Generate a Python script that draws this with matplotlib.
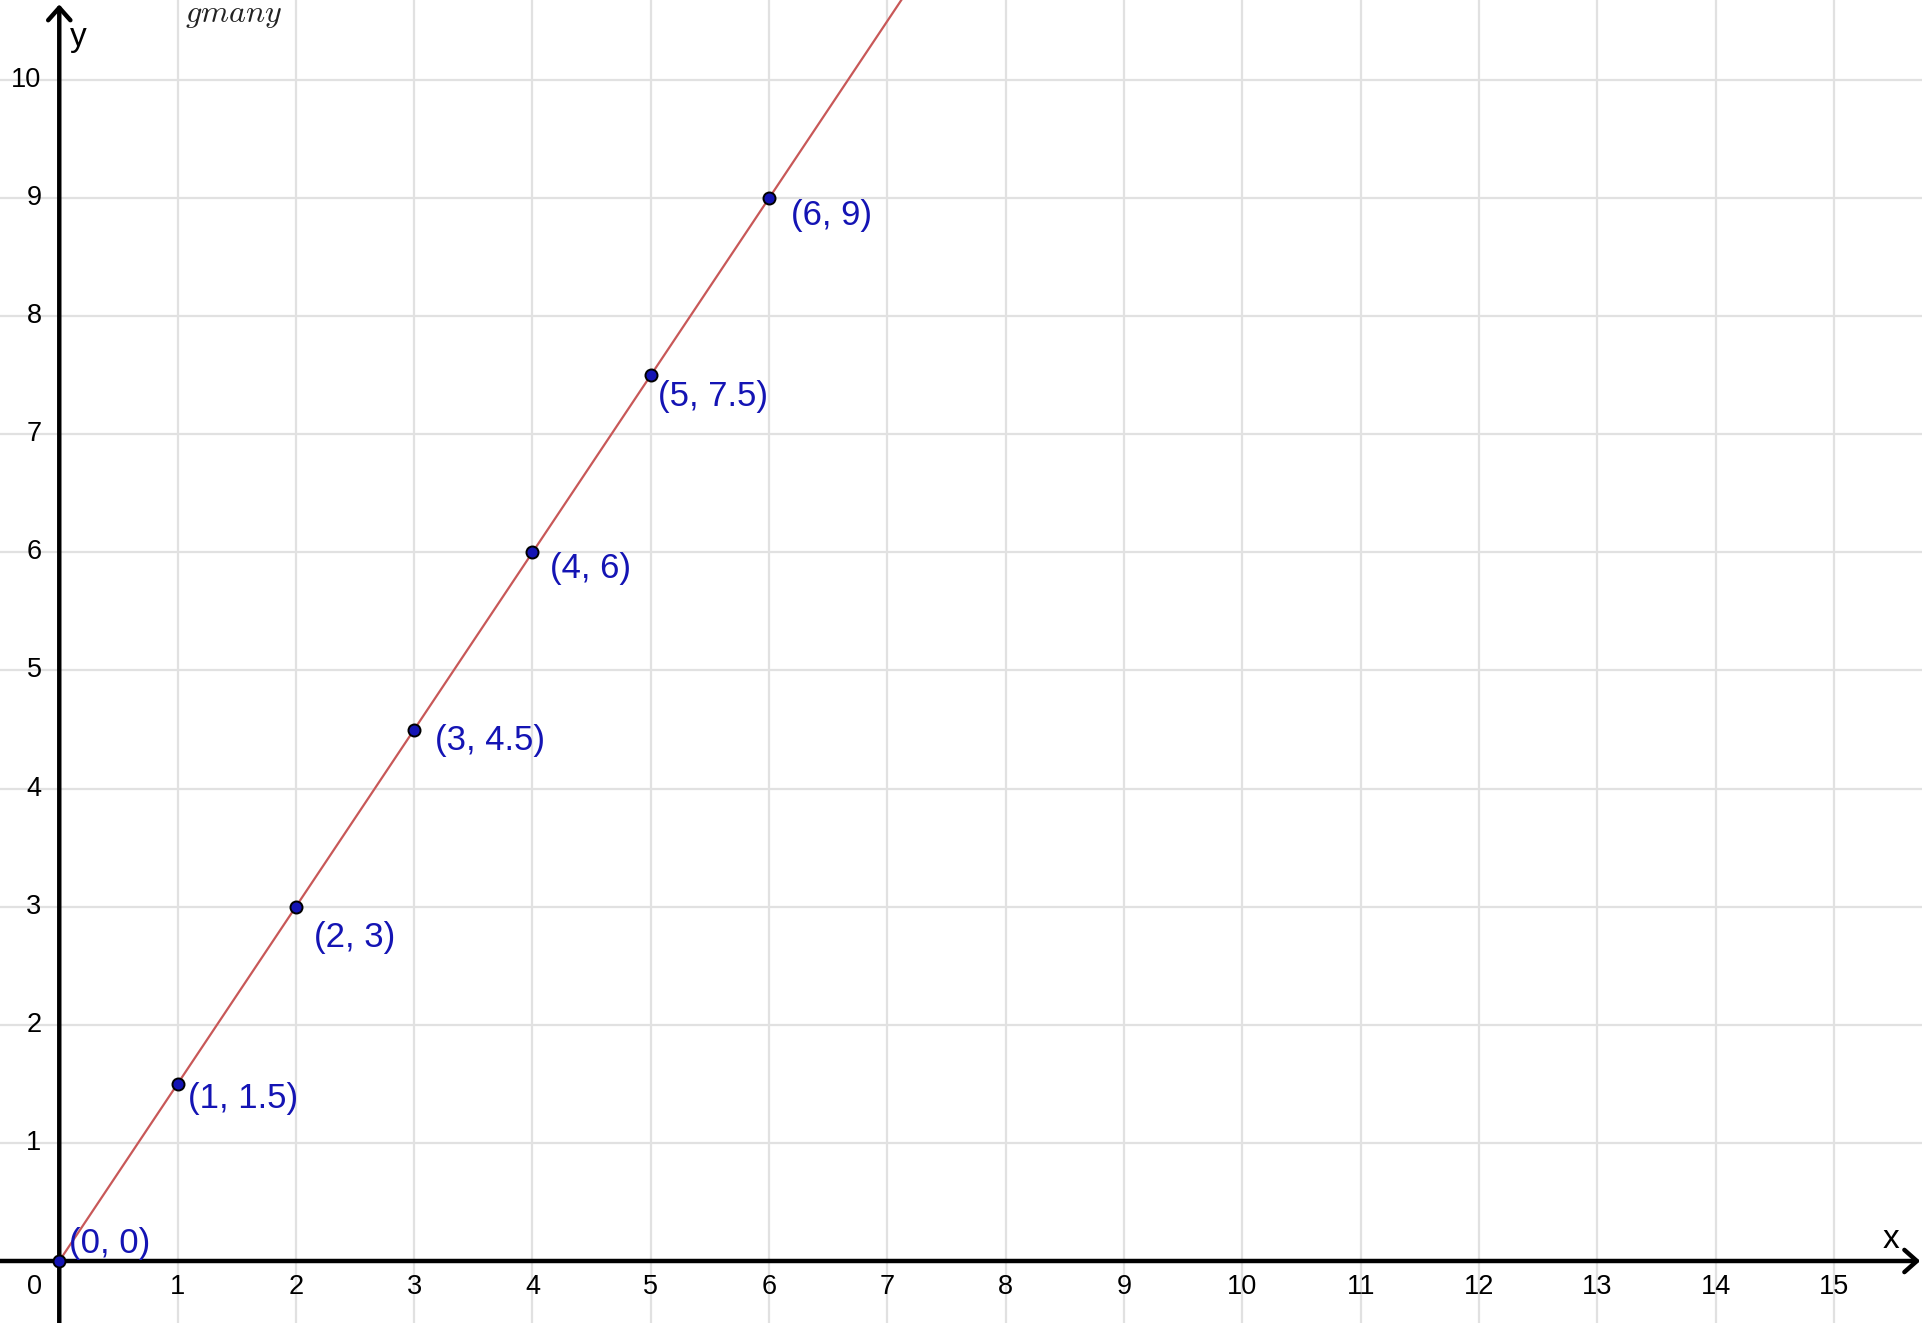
import matplotlib.pyplot as plt

plt.rcParams['font.family'] = ['Liberation Sans', 'DejaVu Sans']
plt.rcParams['mathtext.fontset'] = 'cm'

# data
xs = [0, 1, 2, 3, 4, 5, 6]
ys = [0, 1.5, 3, 4.5, 6, 7.5, 9]
point_labels = ['(0, 0)', '(1, 1.5)', '(2, 3)', '(3, 4.5)', '(4, 6)', '(5, 7.5)', '(6, 9)']
slope = 1.5
x_ticks = list(range(1, 16))
y_ticks = list(range(1, 11))

# label offsets in pixels (left edge, vertical centre)
label_offsets = [(10, 17), (10, -15), (18, -31), (21, -11), (18, -16), (7, -21), (22, -17)]

fig = plt.figure(figsize=(19.22, 13.23), dpi=100)
ax = fig.add_axes([0, 0, 1, 1])
ax.set_xlim(-0.501, 15.745)
ax.set_ylim(-0.525, 10.677)
ax.axis('off')

# grid
for t in x_ticks:
    ax.axvline(t, color='#e1e1e1', lw=1.6, zorder=0)
for t in y_ticks:
    ax.axhline(t, color='#e1e1e1', lw=1.6, zorder=0)

# axes with arrows
arrow = dict(arrowstyle='->, head_length=0.45, head_width=0.4', lw=3.2, color='black',
             mutation_scale=20, shrinkA=0, shrinkB=0)
ax.annotate('', xy=(15.73, 0), xytext=(-0.6, 0), arrowprops=arrow, zorder=2)
ax.annotate('', xy=(0, 10.64), xytext=(0, -0.6), arrowprops=arrow, zorder=2)
ax.text(15.48, 0.18, 'x', fontsize=24, ha='center', va='center')
ax.text(0.09, 10.36, 'y', fontsize=24, ha='left', va='center')

# tick labels
for t in x_ticks:
    ax.text(t, -0.22, str(t), fontsize=19.5, ha='center', va='center')
for t in y_ticks:
    ax.text(-0.15, t, str(t), fontsize=19.5, ha='right', va='center')
ax.text(-0.15, -0.22, '0', fontsize=19.5, ha='right', va='center')

# line y = 1.5x
lx = [0, 8]
ax.plot(lx, [slope * v for v in lx], color='#c85858', lw=1.6, zorder=3)

# points and labels
ax.scatter(xs, ys, s=75, color='#1414b4', edgecolor='black', linewidth=1.4, zorder=4)
for x, y, lab, off in zip(xs, ys, point_labels, label_offsets):
    ax.annotate(lab, (x, y), xytext=off, textcoords='offset pixels',
                fontsize=25, color='#1414b4', ha='left', va='center', zorder=5)

ax.text(1.063, 10.49, r'$gmany$', fontsize=23, ha='left', va='baseline', color='#222222')

fig.savefig('out.png', dpi=100)
